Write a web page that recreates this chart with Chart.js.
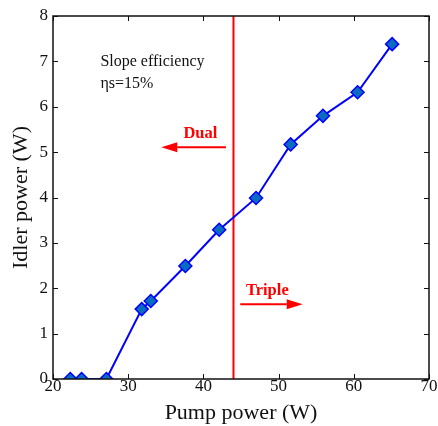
<!DOCTYPE html>
<html>
<head>
<meta charset="utf-8">
<script src="https://cdn.jsdelivr.net/npm/chart.js@4.4.0/dist/chart.umd.min.js"></script>
<style>
  html, body { margin: 0; padding: 0; background: #fff; }
  canvas { display: block; }
</style>
</head>
<body>
<canvas id="myChart" width="438" height="426"></canvas>
<script>
'use strict';
// data
const pumpPower = [22.3, 23.8, 27.1, 31.8, 33.0, 37.6, 42.1, 47.0, 51.6, 55.9, 60.5, 65.1];
const idlerPower = [0, 0, 0, 1.54, 1.72, 2.49, 3.29, 3.99, 5.17, 5.80, 6.32, 7.38];
const xTicks = [20, 30, 40, 50, 60, 70];
const yTicks = [0, 1, 2, 3, 4, 5, 6, 7, 8];
const thresholdPump = 44;

const serif = '"Liberation Serif", "Times New Roman", serif';

const points = pumpPower.map((x, i) => ({ x: x, y: idlerPower[i] }));

//Frame, inward ticks and the notes
const framePlugin = {
    id: 'frame',
    afterDraw(chart) {
        const ctx = chart.ctx;
        const a = chart.chartArea;
        const xs = chart.scales.x;
        const ys = chart.scales.y;
        const tl = 5;
        ctx.save();
        ctx.strokeStyle = '#111';
        ctx.lineWidth = 1.5;
        ctx.strokeRect(a.left, a.top, a.right - a.left, a.bottom - a.top);
        ctx.lineWidth = 1;
        ctx.beginPath();
        xTicks.forEach((v) => {
            const px = Math.round(xs.getPixelForValue(v)) + 0.5;
            ctx.moveTo(px, a.bottom); ctx.lineTo(px, a.bottom - tl);
            ctx.moveTo(px, a.top); ctx.lineTo(px, a.top + tl);
        });
        yTicks.forEach((v) => {
            const py = Math.round(ys.getPixelForValue(v)) + 0.5;
            ctx.moveTo(a.left, py); ctx.lineTo(a.left + tl, py);
            ctx.moveTo(a.right, py); ctx.lineTo(a.right - tl, py);
        });
        ctx.stroke();

        // slope note
        ctx.fillStyle = '#111';
        ctx.font = '16px ' + serif;
        ctx.textAlign = 'left';
        ctx.textBaseline = 'alphabetic';
        ctx.fillText('Slope efficiency', xs.getPixelForValue(26.3), ys.getPixelForValue(6.89));
        ctx.fillText('\u03b7s=15%', xs.getPixelForValue(26.3), ys.getPixelForValue(6.41));

        // dual / triple labels
        ctx.fillStyle = '#ff0000';
        ctx.strokeStyle = '#ff0000';
        ctx.font = 'bold 16.5px ' + serif;
        ctx.textAlign = 'center';
        ctx.textBaseline = 'middle';
        ctx.fillText('Dual', xs.getPixelForValue(39.6), ys.getPixelForValue(5.40));
        ctx.fillText('Triple', xs.getPixelForValue(48.5), ys.getPixelForValue(1.94));

        const arrow = (x0, x1, yv) => {
            const p0 = xs.getPixelForValue(x0);
            const p1 = xs.getPixelForValue(x1);
            const py = ys.getPixelForValue(yv);
            const dir = Math.sign(p1 - p0);
            const hl = 16, hw = 5;
            ctx.lineWidth = 2;
            ctx.beginPath();
            ctx.moveTo(p0, py);
            ctx.lineTo(p1 - dir * hl, py);
            ctx.stroke();
            ctx.beginPath();
            ctx.moveTo(p1, py);
            ctx.lineTo(p1 - dir * hl, py - hw);
            ctx.lineTo(p1 - dir * hl, py + hw);
            ctx.closePath();
            ctx.fill();
        };
        arrow(43.0, 34.4, 5.11);
        arrow(44.9, 53.2, 1.65);
        ctx.restore();
    },
};

const data = {
    datasets: [
        {
            label: 'threshold',
            data: [{ x: thresholdPump, y: 0 }, { x: thresholdPump, y: 8 }],
            borderColor: '#ff0000',
            borderWidth: 2,
            pointRadius: 0,
            order: 2,
        },
        {
            label: 'Idler power',
            data: points,
            borderColor: '#0000ff',
            borderWidth: 2,
            pointStyle: 'rectRot',
            pointRadius: 6.5,
            pointBackgroundColor: '#0a6cc0',
            pointBorderColor: '#0000ff',
            pointBorderWidth: 1.5,
            tension: 0,
            order: 1,
        },
    ],
};

const config = {
    type: 'line',
    data: data,
    plugins: [framePlugin],
    options: {
        responsive: false,
        animation: false,
        layout: { padding: { top: 16, right: 9, left: 0, bottom: 0 } },
        plugins: {
            legend: { display: false },
            tooltip: { enabled: false },
        },
        scales: {
            x: {
                type: 'linear',
                min: 20,
                max: 70,
                grid: { display: false, drawTicks: false },
                border: { display: false },
                afterFit(scale) { scale.height = 47; },
                afterBuildTicks(scale) { scale.ticks = xTicks.map((v) => ({ value: v })); },
                ticks: {
                    color: '#111',
                    padding: -3,
                    maxRotation: 0,
                    font: { family: serif, size: 17 },
                },
                title: {
                    display: true,
                    text: 'Pump power (W)',
                    color: '#111',
                    font: { family: serif, size: 22 },
                    padding: { top: 0, bottom: 0 },
                },
            },
            y: {
                type: 'linear',
                min: 0,
                max: 8,
                grid: { display: false, drawTicks: false },
                border: { display: false },
                afterFit(scale) { scale.width = 53; },
                afterBuildTicks(scale) { scale.ticks = yTicks.map((v) => ({ value: v })); },
                ticks: {
                    color: '#111',
                    padding: 5,
                    font: { family: serif, size: 17 },
                },
                title: {
                    display: true,
                    text: 'Idler power (W)',
                    color: '#111',
                    font: { family: serif, size: 22 },
                    padding: { top: 8, bottom: 0 },
                },
            },
        },
    },
};
const myChart = new Chart(document.getElementById('myChart'), config);
</script>
</body>
</html>
